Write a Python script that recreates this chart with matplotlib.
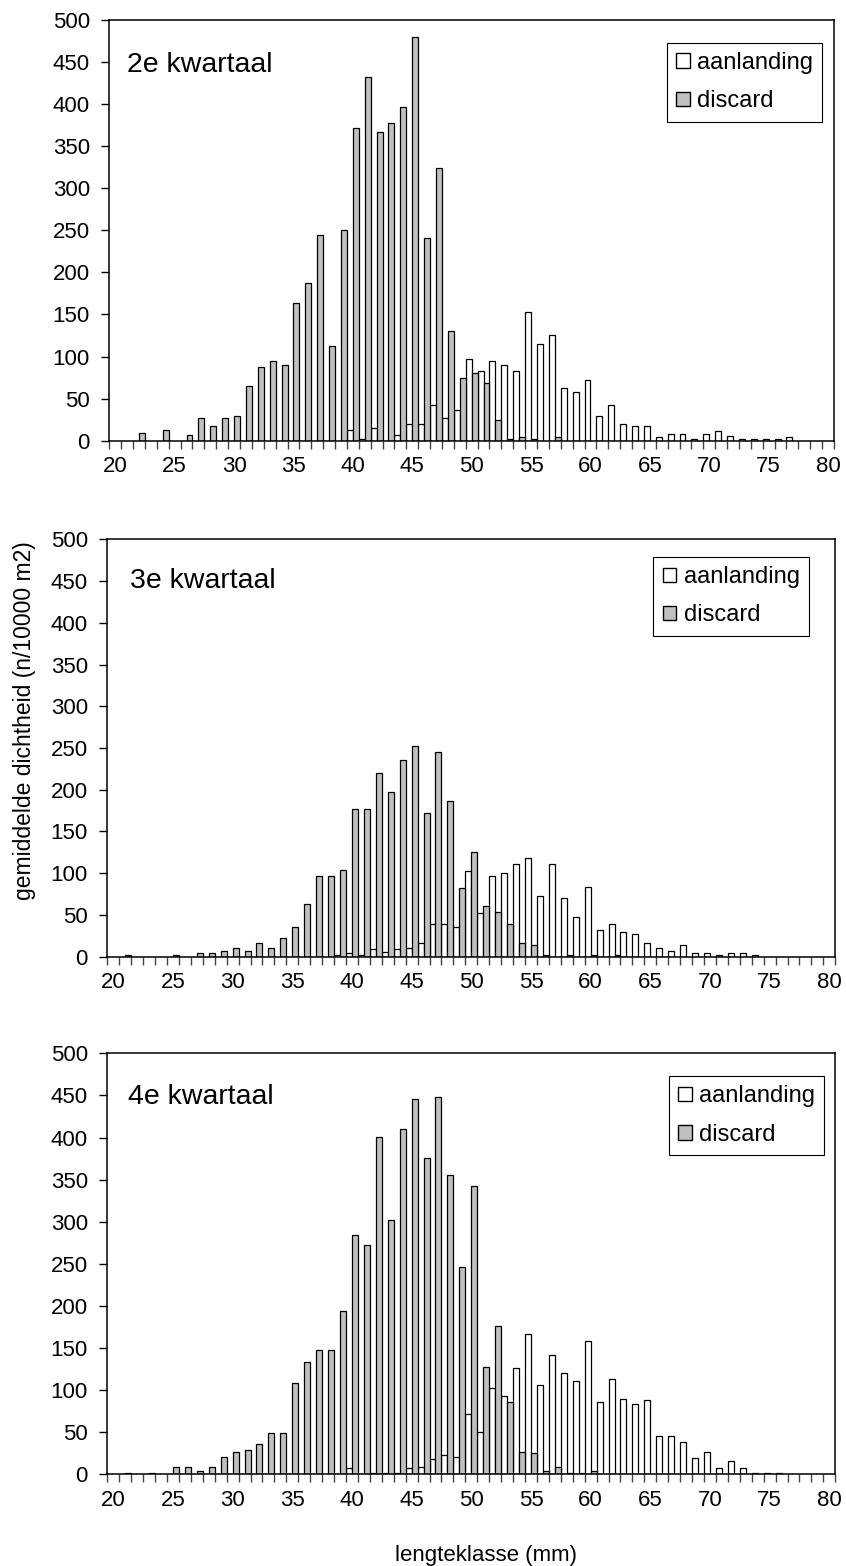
import matplotlib
matplotlib.use('Agg')
import matplotlib.pyplot as plt
import numpy as np
from matplotlib.patches import Patch

plt.rcParams['font.family'] = ['Liberation Sans', 'DejaVu Sans']

lengths = list(range(20, 81))

# 2e kwartaal
q2_aanlanding = [0]*20 + [13, 2, 15, 0, 7, 20, 20, 42, 27, 36,
                          97, 83, 95, 90, 83, 153, 115, 126, 63, 58,
                          72, 29, 42, 20, 17, 17, 4, 8, 8, 2,
                          8, 11, 6, 2, 2, 2, 2, 4, 0, 0, 0]
q2_discard = [0, 0, 9, 0, 13, 0, 7, 27, 18, 27,
              29, 65, 88, 95, 90, 164, 187, 245, 112, 250,
              372, 432, 367, 378, 397, 480, 241, 324, 130, 74,
              81, 69, 25, 2, 4, 2, 0, 4, 0, 0] + [0]*21

# 3e kwartaal
q3_aanlanding = [0]*19 + [2, 4, 2, 9, 6, 9, 11, 16, 39, 39, 36,
                          103, 52, 97, 100, 111, 118, 73, 111, 70, 48,
                          84, 32, 39, 30, 27, 16, 11, 7, 14, 4,
                          4, 2, 4, 4, 2, 0, 0, 0, 0, 0, 0]
q3_discard = [0, 2, 0, 0, 0, 2, 0, 4, 4, 7,
              11, 7, 16, 11, 22, 36, 63, 97, 97, 104,
              177, 177, 220, 197, 236, 252, 172, 245, 186, 82,
              125, 61, 54, 39, 16, 14, 2, 0, 2, 0,
              2, 0, 2] + [0]*18

# 4e kwartaal
q4_aanlanding = [0]*20 + [7, 0, 2, 1, 2, 7, 9, 18, 23, 21,
                          72, 50, 102, 93, 126, 167, 106, 142, 120, 111,
                          158, 86, 113, 90, 84, 88, 46, 46, 38, 19,
                          27, 7, 16, 7, 2, 2, 2, 0, 0, 0, 0]
q4_discard = [0, 2, 0, 2, 0, 9, 9, 4, 9, 21,
              27, 29, 36, 49, 49, 108, 133, 148, 148, 194,
              284, 272, 401, 302, 410, 446, 376, 448, 356, 246,
              342, 128, 176, 86, 27, 25, 4, 9, 2, 2,
              4] + [0]*20

panel_titles = ['2e kwartaal', '3e kwartaal', '4e kwartaal']
series_labels = ['aanlanding', 'discard']
y_ticks = list(range(0, 501, 50))

W, H = 846, 1566
fig = plt.figure(figsize=(W/100, H/100), dpi=100)

# axes boxes in pixels: left, right, top, bottom
boxes = [(109.3, 834.0, 20.0, 440.7),
         (107.3, 835.3, 539.3, 956.7),
         (107.3, 835.3, 1053.3, 1474.3)]
title_pos = [(0.024, 0.877), (0.031, 0.8826), (0.029, 0.8796)]
legend_pos = [(0.769, 0.946), (0.750, 0.958), (0.771, 0.946)]

data = [(q2_aanlanding, q2_discard), (q3_aanlanding, q3_discard), (q4_aanlanding, q4_discard)]
gray = '#C0C0C0'


def edges(vals):
    return ['black' if v > 0 else 'none' for v in vals]


for i, ((l, r, t, b), (aan, dis)) in enumerate(zip(boxes, data)):
    ax = fig.add_axes([l/W, 1 - b/H, (r-l)/W, (b-t)/H])
    x = np.arange(len(lengths))
    ax.bar(x - 0.25, aan, width=0.5, color='white', edgecolor=edges(aan), linewidth=0.9, zorder=2)
    ax.bar(x + 0.25, dis, width=0.5, color=gray, edgecolor=edges(dis), linewidth=0.9, zorder=2)
    ax.set_xlim(-0.5, len(lengths) - 0.5)
    ax.set_ylim(0, 500)
    ax.set_xticks(x[::5])
    ax.set_xticklabels([str(v) for v in lengths[::5]])
    ax.set_xticks(np.arange(-0.5, len(lengths), 1), minor=True)
    ax.tick_params(axis='x', which='major', length=0, pad=11, labelsize=16)
    ax.tick_params(axis='x', which='minor', length=6, width=1, color='#444444')
    ax.set_yticks(y_ticks)
    ax.tick_params(axis='y', which='major', length=6, width=1, pad=8, labelsize=16)
    for s in ax.spines.values():
        s.set_linewidth(1.1)
        s.set_color('black')
    ax.text(title_pos[i][0], title_pos[i][1], panel_titles[i], transform=ax.transAxes,
            fontsize=20.5, ha='left', va='baseline')
    handles = [Patch(facecolor='white', edgecolor='black', label=series_labels[0]),
               Patch(facecolor=gray, edgecolor='black', label=series_labels[1])]
    leg = ax.legend(handles=handles, loc='upper left', bbox_to_anchor=legend_pos[i],
                    fontsize=17, frameon=True, fancybox=False, edgecolor='black',
                    framealpha=1, handlelength=0.58, handleheight=0.58,
                    handletextpad=0.3, labelspacing=0.68, borderpad=0.4,
                    borderaxespad=0)
    leg.get_frame().set_linewidth(0.8)

fig.text(25/W, 1 - 721/H, 'gemiddelde dichtheid (n/10000 m2)', rotation=90,
         ha='center', va='center', fontsize=16.5)
fig.text(486/W, 1 - 1555/H, 'lengteklasse (mm)', ha='center', va='center', fontsize=16)

fig.savefig('out.png', dpi=100)
